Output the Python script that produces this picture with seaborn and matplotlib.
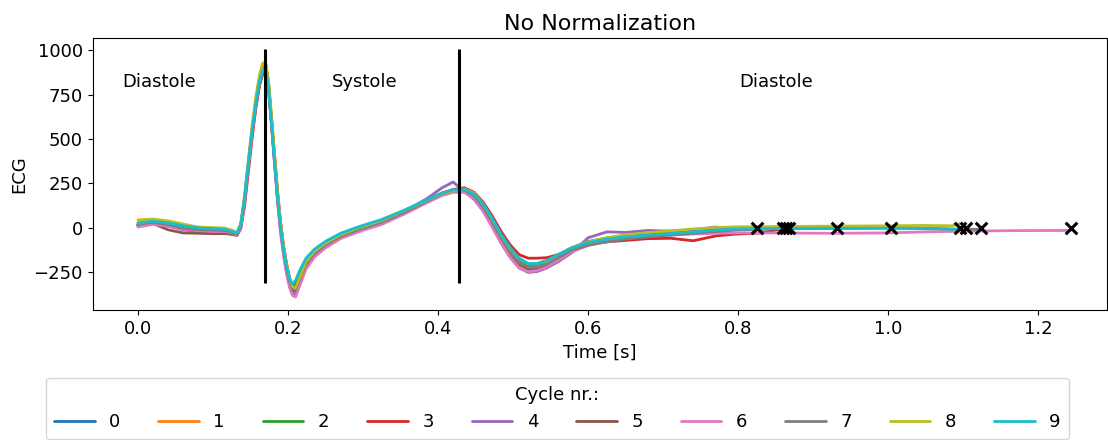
import numpy as np
import pandas as pd
import matplotlib
matplotlib.use("Agg")
import matplotlib.pyplot as plt
import seaborn as sns

# ---------------- data ----------------
t_grid = [0.000, 0.020, 0.040, 0.060, 0.080, 0.100, 0.115, 0.125, 0.132,
          0.137, 0.142, 0.147, 0.152, 0.157, 0.162, 0.166, 0.170, 0.174, 0.178,
          0.182, 0.186, 0.190, 0.194, 0.198, 0.202, 0.206, 0.210, 0.216,
          0.224, 0.235, 0.250, 0.270, 0.295, 0.325, 0.355, 0.385, 0.405, 0.420, 0.435,
          0.448, 0.460, 0.472, 0.484, 0.496, 0.508, 0.520, 0.532, 0.545, 0.560,
          0.578, 0.600, 0.625, 0.650, 0.680, 0.710, 0.740, 0.770, 0.795]

cycle0 = [15, 30, 20, 5, -5, -10, -12, -22, -32,
          15, 160, 350, 535, 690, 810, 870, 880, 785, 595, 390, 190, 20, -110, -210, -285, -322, -305, -245,
          -178, -128, -82, -38, 2, 42, 95, 152, 190, 208, 214,
          185, 128, 48, -42, -118, -178, -206, -204, -185, -152, -114, -84, -65, -52, -42, -34, -24, -14, -8]
cycle1 = [30, 42, 30, 12, -5, -8, -10, -25, -35,
          10, 150, 345, 540, 705, 835, 905, 920, 820, 620, 400, 195, 20, -115, -215, -295, -340, -330, -265,
          -190, -135, -88, -42, -2, 38, 93, 152, 192, 212, 222,
          195, 130, 40, -55, -135, -192, -215, -212, -192, -156, -116, -85, -66, -52, -42, -32, -22, -12, -6]
cycle2 = [20, 35, 25, 8, -3, -6, -8, -20, -30,
          15, 160, 355, 545, 705, 830, 895, 910, 805, 605, 390, 185, 15, -118, -215, -290, -328, -312, -252,
          -182, -130, -84, -38, 2, 42, 97, 155, 194, 212, 220,
          190, 130, 45, -47, -125, -182, -208, -205, -186, -152, -112, -76, -56, -44, -35, -26, -16, -8, -2]
cycle3 = [18, 30, 15, -5, -15, -20, -22, -35, -42,
          -5, 120, 310, 500, 670, 800, 870, 880, 800, 610, 410, 205, 35, -100, -200, -280, -330, -335, -270,
          -192, -138, -92, -45, -8, 35, 92, 155, 196, 216, 226,
          200, 145, 68, -20, -95, -150, -170, -170, -167, -150, -120, -90, -78, -70, -60, -58, -72, -45, -35]
cycle4 = [10, 25, 10, -10, -20, -20, -22, -30, -40,
          5, 150, 350, 545, 715, 845, 915, 930, 810, 590, 370, 160, -15, -145, -245, -320, -370, -375, -310,
          -220, -155, -105, -55, -15, 30, 92, 165, 225, 258, 205,
          160, 95, 10, -85, -165, -225, -250, -245, -225, -190, -140, -55, -22, -25, -14, -18, -10, 5, -3]
cycle5 = [15, 25, -10, -28, -30, -32, -32, -35, -38,
          10, 155, 350, 535, 690, 805, 860, 870, 775, 580, 370, 165, -5, -135, -235, -310, -355, -355, -290,
          -205, -150, -100, -52, -15, 25, 82, 145, 185, 205, 212,
          175, 110, 25, -65, -145, -205, -232, -230, -212, -175, -125, -85, -62, -50, -42, -33, -24, -15, -8]
cycle6 = [5, 20, 10, -5, -15, -20, -20, -28, -38,
          0, 140, 340, 530, 695, 820, 885, 900, 790, 580, 360, 150, -25, -155, -260, -335, -380, -388, -320,
          -230, -165, -112, -60, -20, 20, 78, 142, 182, 200, 200,
          165, 95, 5, -85, -165, -225, -246, -240, -220, -182, -135, -98, -70, -55, -46, -40, -34, -30, -28]
cycle7 = [20, 32, 18, 0, -10, -12, -14, -25, -35,
          10, 155, 350, 540, 700, 820, 885, 895, 795, 595, 385, 180, 5, -125, -225, -300, -345, -348, -285,
          -200, -142, -95, -48, -8, 32, 88, 150, 190, 208, 214,
          180, 118, 35, -55, -135, -195, -222, -220, -202, -168, -125, -98, -78, -62, -50, -40, -30, -20, -12]
cycle8 = [45, 50, 40, 22, 5, 2, 0, -12, -25,
          25, 180, 380, 570, 735, 860, 925, 935, 830, 630, 420, 210, 35, -100, -200, -280, -330, -338, -275,
          -188, -133, -85, -38, 2, 42, 98, 156, 192, 208, 220,
          195, 135, 52, -38, -115, -172, -202, -201, -185, -150, -110, -78, -55, -38, -26, -16, -6, 2, 6]
cycle9 = [25, 38, 28, 12, 0, -4, -8, -20, -30,
          20, 170, 360, 545, 700, 820, 885, 895, 790, 590, 380, 180, 10, -120, -215, -285, -315, -295, -235,
          -170, -120, -75, -30, 8, 48, 100, 158, 195, 214, 216,
          190, 135, 55, -35, -110, -170, -200, -200, -182, -150, -112, -82, -63, -50, -40, -32, -22, -12, -6]

# tail of each cycle after the common grid (times, values)
tail0_t, tail0_v = [0.820, 0.864], [-3, 0]
tail1_t, tail1_v = [0.830, 0.868], [-2, 2]
tail2_t, tail2_v = [0.850, 0.890, 0.931], [0, 2, 3]
tail3_t, tail3_v = [0.830, 0.859], [-28, -5]
tail4_t, tail4_v = [0.825], [0]
tail5_t, tail5_v = [0.850, 0.920, 1.003], [-3, 0, 2]
tail6_t, tail6_v = [0.850, 0.920, 1.000, 1.050, 1.100, 1.170, 1.243], [-28, -30, -28, -22, -18, -15, -14]
tail7_t, tail7_v = [0.850, 0.920, 1.000, 1.060, 1.123], [-5, -3, 0, -5, -8]
tail8_t, tail8_v = [0.850, 0.920, 1.000, 1.050, 1.085, 1.095], [8, 10, 12, 14, 12, 25]
tail9_t, tail9_v = [0.850, 0.920, 1.000, 1.060, 1.103], [-3, -2, -2, -2, -10]

cycle_labels = ["0", "1", "2", "3", "4", "5", "6", "7", "8", "9"]
end_times = [0.864, 0.868, 0.931, 0.859, 0.825, 1.003, 1.243, 1.123, 1.095, 1.103]
end_values = [0, 0, 0, 0, 0, 0, -2, 0, 0, 0]

boundaries = [0.169, 0.428]
phase_names = ["Diastole", "Systole", "Diastole"]
phase_x = [0.0287, 0.302, 0.851]
phase_y = [818, 818, 818]

# ---------------- build long frame ----------------
cycles = [cycle0, cycle1, cycle2, cycle3, cycle4, cycle5, cycle6, cycle7, cycle8, cycle9]
tails_t = [tail0_t, tail1_t, tail2_t, tail3_t, tail4_t, tail5_t, tail6_t, tail7_t, tail8_t, tail9_t]
tails_v = [tail0_v, tail1_v, tail2_v, tail3_v, tail4_v, tail5_v, tail6_v, tail7_v, tail8_v, tail9_v]
rows = []
for lab, vals, tt, tv in zip(cycle_labels, cycles, tails_t, tails_v):
    assert len(vals) == len(t_grid), (lab, len(vals))
    for t, v in zip(t_grid + tt, vals + tv):
        rows.append((t, v, lab))
df = pd.DataFrame(rows, columns=["Time", "ECG", "cycle"])

# ---------------- plot ----------------
sns.set_style("ticks")
plt.rcParams["font.family"] = ["DejaVu Sans"]
plt.rcParams["font.size"] = 13
for key in ["text.color", "axes.labelcolor", "xtick.color", "ytick.color", "axes.edgecolor"]:
    plt.rcParams[key] = "black"

fig = plt.figure(figsize=(11.08, 4.40), dpi=100)
ax = fig.add_axes([0.0836, 0.2955, 0.9154, 0.6175])

sns.lineplot(data=df, x="Time", y="ECG", hue="cycle", hue_order=cycle_labels,
             palette="tab10", estimator=None, sort=False, linewidth=2, ax=ax, legend=True)

for b in boundaries:
    ax.vlines(b, -310, 1005, color="black", linewidth=2.2, zorder=5)

ax.scatter(end_times, end_values, marker="x", color="black", s=70, linewidths=2.2, zorder=6)

for name, x, y in zip(phase_names, phase_x, phase_y):
    ax.text(x, y, name, ha="center", va="center", fontsize=13)

ax.set_xlim(-0.0604, 1.2913)
ax.set_ylim(-461, 1066)
ax.set_xticks([0.0, 0.2, 0.4, 0.6, 0.8, 1.0, 1.2])
ax.set_yticks([-250, 0, 250, 500, 750, 1000])
ax.set_xlabel("Time [s]", fontsize=13)
ax.set_ylabel("ECG", fontsize=13)
ax.set_title("No Normalization", fontsize=16)
for sp in ax.spines.values():
    sp.set_visible(True)
    sp.set_color("black")
ax.tick_params(colors="black", labelsize=13)

handles, labels = ax.get_legend_handles_labels()
ax.get_legend().remove()
fig.legend(handles, labels, loc="lower center", bbox_to_anchor=(0.503, 0.002), ncol=10,
           title="Cycle nr.:", fontsize=13, title_fontsize=13, frameon=True,
           handlelength=2.25, columnspacing=2.1, borderpad=0.45, borderaxespad=0.0)

fig.savefig("out.png", dpi=100)
